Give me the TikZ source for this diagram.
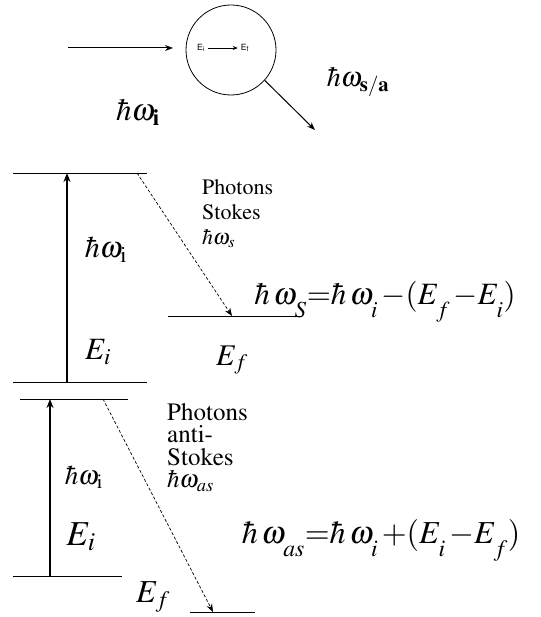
\documentclass[tikz,border=0pt]{standalone}
\usepackage[T1]{fontenc}
\usepackage{mathptmx}
\usepackage[scaled]{helvet}
\usepackage{tikz}
\usetikzlibrary{arrows.meta,calc}

% lowered subscript, as in the equations
\newcommand{\dn}[1]{_{\raisebox{-0.28em}{$\scriptstyle #1$}}}

\tikzset{
    level/.style={line width=0.8pt},
    pump/.style={line width=1.8pt, -{Stealth[length=9pt,width=7pt]}},
    emit/.style={line width=0.7pt, densely dashed, -{Stealth[length=8pt,width=6pt]}},
    ray/.style={line width=1pt, -{Stealth[length=8pt,width=6pt]}},
    big/.style={font=\fontsize{#1}{#1}\selectfont, inner sep=0pt},
    note/.style={font=\fontsize{22}{25}\selectfont, align=left, inner sep=0pt}
}

\begin{document}
\begin{tikzpicture}[x=1pt, y=-1pt, >=Stealth]
    \useasboundingbox (0,0) rectangle (540,617);

    % Scattering centre
    \node[draw, circle, line width=0.8pt, minimum size=90pt, inner sep=0pt] (scat) at (231,50) {};
    \node[font=\sffamily\fontsize{9}{10}\selectfont, inner sep=0pt] (Eic) at (201,48) {E\textsubscript{i}};
    \node[font=\sffamily\fontsize{9}{10}\selectfont, inner sep=0pt] (Efc) at (245,48) {E\textsubscript{f}};
    \draw[line width=0.6pt, -{Stealth[length=5pt,width=4pt]}] ($(Eic.east)+(3,0)$) -- ($(Efc.west)+(-3,0)$);

    % Incoming and scattered photon
    \coordinate (inL) at (68,48);
    \coordinate (inR) at (173,48);
    \coordinate (out) at (315,130);
    \draw[ray] (inL) -- (inR);
    \draw[ray] (scat.-42) -- (out);
    \node[big=31] (wi) at (138,112) {$\hbar\omega_{\mathbf{i}}$};
    \node[big=28] (wsa) at (358,82) {$\hbar\omega_{\mathbf{s/a}}$};

    % Stokes levels
    \coordinate (S1) at (13,173);  \coordinate (S2) at (147,173);
    \coordinate (S3) at (13,382);  \coordinate (S4) at (147,382);
    \coordinate (S5) at (168,316); \coordinate (S6) at (302,316);
    \draw[level] (S1) -- (S2);
    \draw[level] (S3) -- (S4);
    \draw[level] (S5) -- (S6);
    \draw[pump] (67,382) coordinate (pS0) -- (67,173) coordinate (pS1);
    \draw[emit] (137,173) coordinate (eS0) -- (232,316) coordinate (eS1);
    \node[note, anchor=north west] (stokes) at (202,179) {Photons\\Stokes\\$\hbar\omega_s$};
    \node[big=30] (wiS) at (106,250) {$\hbar\omega_{\mathrm{i}}$};
    \node[big=31] (EiS) at (98,352) {$E_i$};
    \node[big=30] (EfS) at (232,360) {$E_f$};
    \node[big=31, anchor=base] (eqS) at (385,304) {$\hbar\,\omega\dn{S}{=}\hbar\,\omega\dn{i}\,{-}(E\dn{f}\,{-}E\dn{i})$};

    % anti-Stokes levels
    \coordinate (A1) at (20,399);  \coordinate (A2) at (128,399);
    \coordinate (A3) at (13,576);  \coordinate (A4) at (122,576);
    \coordinate (A5) at (190,612); \coordinate (A6) at (255,612);
    \draw[level] (A1) -- (A2);
    \draw[level] (A3) -- (A4);
    \draw[level] (A5) -- (A6);
    \draw[pump] (50,576) coordinate (pA0) -- (50,399) coordinate (pA1);
    \draw[emit] (103,399) coordinate (eA0) -- (213,612) coordinate (eA1);
    \node[note, font=\fontsize{25}{22.5}\selectfont, anchor=north west] (astokes) at (167,403) {Photons\\anti-\\Stokes\\$\hbar\omega_{as}$};
    \node[big=27] (wiA) at (84,477) {$\hbar\omega_{\mathrm{i}}$};
    \node[big=35] (EiA) at (81,537) {$E_i$};
    \node[big=32] (EfA) at (153,597) {$E_f$};
    \node[big=32, anchor=base] (eqA) at (381,543) {$\hbar\,\omega\dn{as}{=}\hbar\,\omega\dn{i}\,{+}(E\dn{i}\,{-}E\dn{f})$};
\end{tikzpicture}
\end{document}
